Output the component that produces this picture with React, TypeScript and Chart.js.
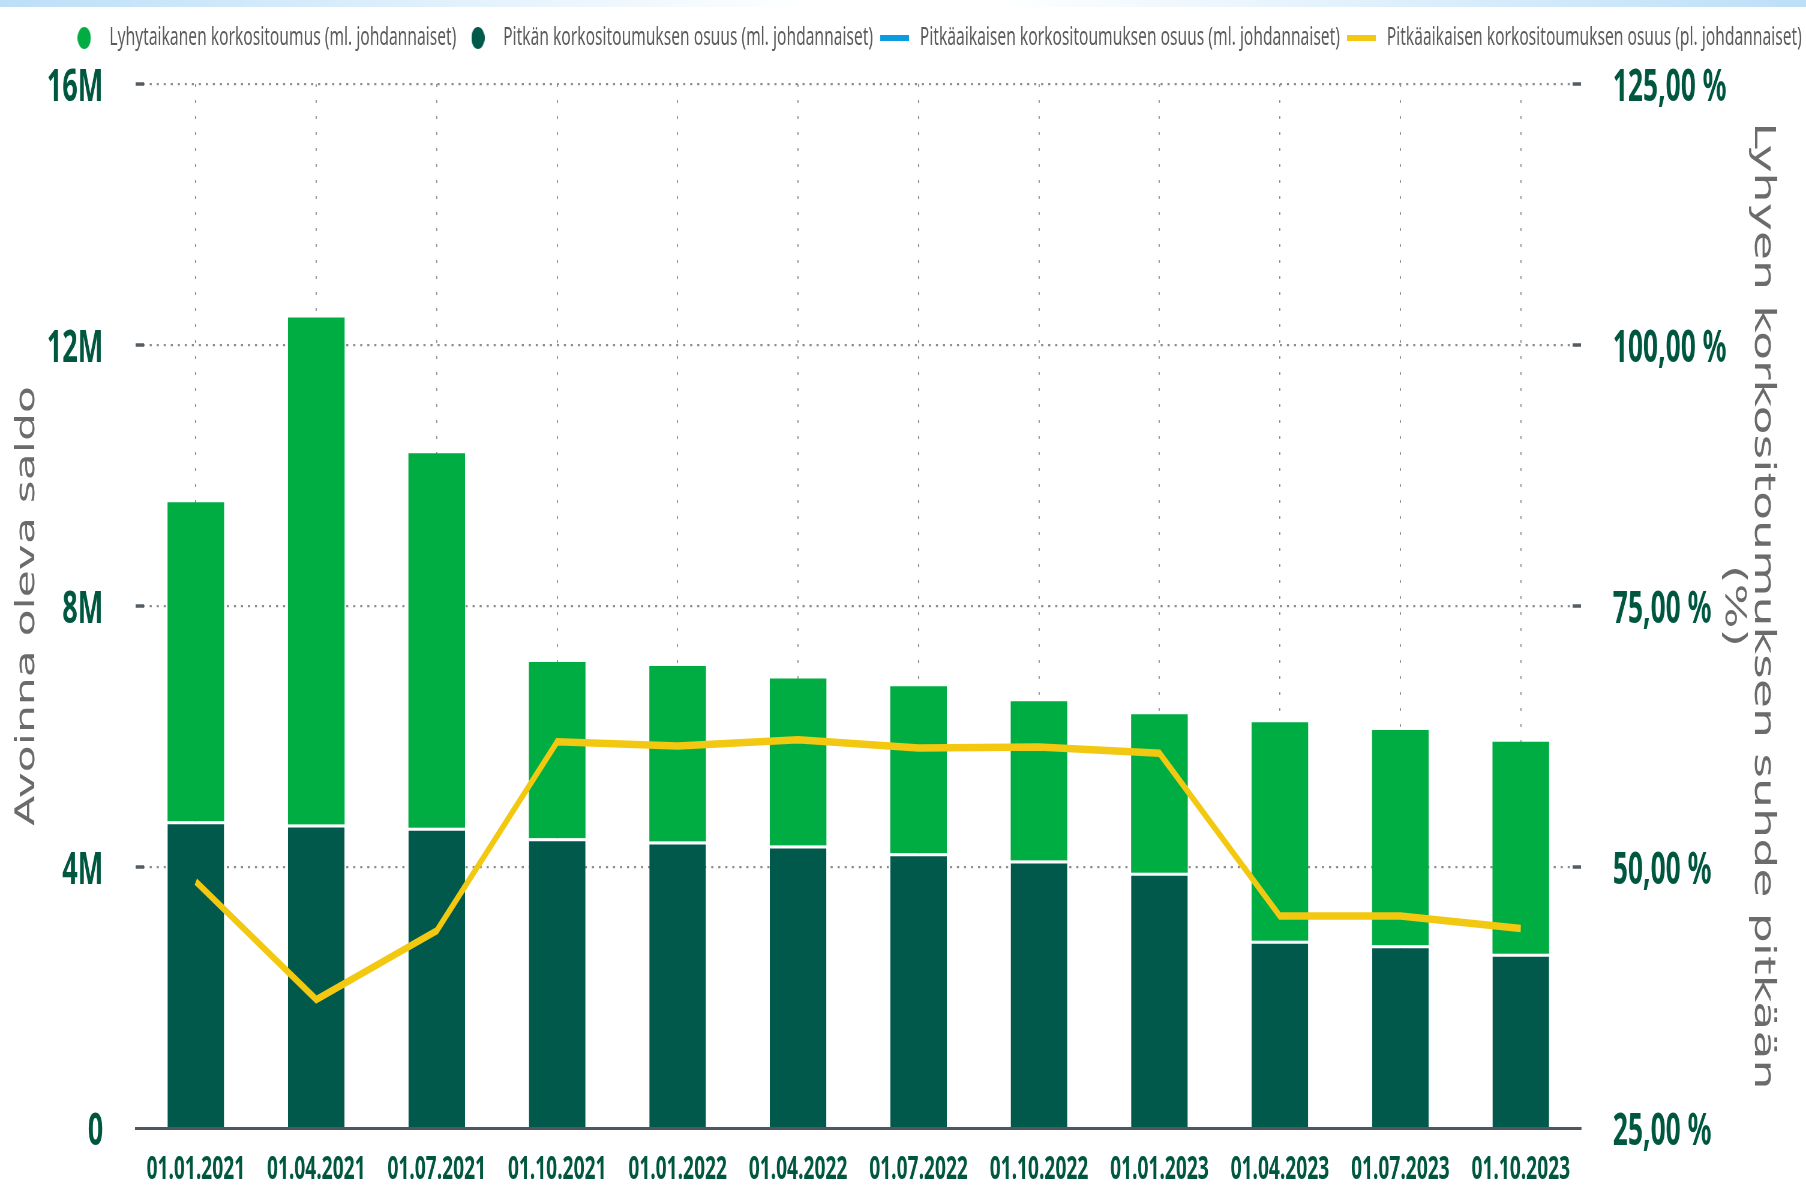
import React, { useEffect, useRef } from 'react';
import { Chart, registerables } from 'chart.js';

Chart.register(...registerables);

// ---------- data ----------
const categories = [
  '01.01.2021', '01.04.2021', '01.07.2021', '01.10.2021',
  '01.01.2022', '01.04.2022', '01.07.2022', '01.10.2022',
  '01.01.2023', '01.04.2023', '01.07.2023', '01.10.2023',
];
const shortTerm = [4890000, 7770000, 5740000, 2700000, 2690000, 2560000, 2560000, 2440000, 2430000, 3350000, 3300000, 3250000];
const longTerm = [4700000, 4650000, 4600000, 4440000, 4390000, 4330000, 4210000, 4100000, 3910000, 2870000, 2800000, 2670000];
const longShareIncl: number[] = [];
const longShareExcl = [48.6, 37.3, 43.9, 62.0, 61.6, 62.2, 61.4, 61.5, 60.9, 45.3, 45.3, 44.1];
const leftTickLabels = ['0', '4M', '8M', '12M', '16M'];
const rightTickLabels = ['25,00 %', '50,00 %', '75,00 %', '100,00 %', '125,00 %'];
const seriesNames = [
  'Lyhytaikanen korkositoumus (ml. johdannaiset)',
  'Pitkän korkositoumuksen osuus (ml. johdannaiset)',
  'Pitkäaikaisen korkositoumuksen osuus (ml. johdannaiset)',
  'Pitkäaikaisen korkositoumuksen osuus (pl. johdannaiset)',
];

// ---------- style ----------
const SQUISH = 0.6;
const W = Math.round(1806 / SQUISH);
const H = 1196;
const LIGHT = '#00AD42';
const DARK = '#00594B';
const BLUE = '#0A9BE0';
const YELLOW = '#F2C811';
const TICK_GREEN = '#00573F';
const GRID = '#8c8c8c';
const LEGEND_GAP = 23;

function circleMarker(color: string) {
  const c = document.createElement('canvas');
  c.width = 22; c.height = 22;
  const g = c.getContext('2d')!;
  g.fillStyle = color;
  g.beginPath(); g.arc(11, 11, 11, 0, Math.PI * 2); g.fill();
  return c;
}
function lineMarker(color: string) {
  const c = document.createElement('canvas');
  c.width = 48; c.height = 6;
  const g = c.getContext('2d')!;
  g.fillStyle = color;
  g.fillRect(0, 0, 48, 6);
  return c;
}

const edgeDashes = {
  id: 'edgeDashes',
  beforeDatasetsDraw(chart: any) {
    const { ctx, chartArea, scales } = chart;
    const y = scales.y;
    ctx.save();
    ctx.strokeStyle = '#555d63';
    ctx.lineWidth = 3.5;
    y.ticks.forEach((t: any) => {
      if (t.value === 0) return;
      const py = y.getPixelForValue(t.value);
      ctx.beginPath();
      ctx.moveTo(chartArea.left, py); ctx.lineTo(chartArea.left + 14, py);
      ctx.moveTo(chartArea.right - 14, py); ctx.lineTo(chartArea.right, py);
      ctx.stroke();
    });
    ctx.restore();
  },
};

const legendGap = {
  id: 'legendGap',
  beforeLayout(chart: any) {
    const lg = chart.legend;
    if (lg && !lg.__gapPatched) {
      const fit = lg.fit.bind(lg);
      lg.fit = function () { fit(); this.height += LEGEND_GAP; };
      lg.__gapPatched = true;
    }
  },
};

export default function App() {
  const ref = useRef<HTMLCanvasElement>(null);
  useEffect(() => {
    if (!ref.current) return;
    const markers = [circleMarker(LIGHT), circleMarker(DARK), lineMarker(BLUE), lineMarker(YELLOW)];
    const chart = new Chart(ref.current, {
      type: 'bar',
      data: {
        labels: categories,
        datasets: [
          {
            type: 'bar', label: seriesNames[0], data: shortTerm, backgroundColor: LIGHT,
            yAxisID: 'y', stack: 's', order: 3, barPercentage: 0.47, categoryPercentage: 1,
          },
          {
            type: 'bar', label: seriesNames[1], data: longTerm, backgroundColor: DARK,
            borderColor: '#ffffff', borderWidth: { top: 3, left: 0, right: 0, bottom: 0 },
            yAxisID: 'y', stack: 's', order: 2, barPercentage: 0.47, categoryPercentage: 1,
          },
          {
            type: 'line', label: seriesNames[2], data: longShareIncl, borderColor: BLUE, backgroundColor: BLUE,
            borderWidth: 7.5, pointRadius: 0, tension: 0, yAxisID: 'y1', order: 1,
          },
          {
            type: 'line', label: seriesNames[3], data: longShareExcl, borderColor: YELLOW, backgroundColor: YELLOW,
            borderWidth: 7.5, pointRadius: 0, tension: 0, yAxisID: 'y1', order: 0,
          },
        ] as any,
      },
      plugins: [edgeDashes, legendGap],
      options: {
        responsive: false,
        animation: false,
        devicePixelRatio: 1,
        layout: { padding: { top: 18, left: 0, right: 0, bottom: 7 } },
        plugins: {
          tooltip: { enabled: false },
          legend: {
            position: 'top',
            align: 'end',
            labels: {
              usePointStyle: true,
              pointStyleWidth: 58,
              boxHeight: 26,
              padding: 7,
              color: '#5b5b5b',
              font: { family: 'Noto Sans', size: 26 },
              sort: (a: any, b: any) => a.datasetIndex - b.datasetIndex,
              generateLabels: (ch: any) => {
                const items = (Chart.defaults.plugins.legend.labels as any).generateLabels(ch);
                items.forEach((it: any) => { it.pointStyle = markers[it.datasetIndex]; });
                return items;
              },
            },
          },
        },
        scales: {
          x: {
            stacked: true,
            afterFit: (s: any) => { s.height = 61; },
            grid: { offset: false, color: GRID, lineWidth: 1.8, drawTicks: false },
            border: { display: true, color: '#4f575c', width: 3, dash: [3, 13] },
            ticks: { color: TICK_GREEN, font: { family: 'Noto Sans', size: 32, weight: 'bold' }, padding: 23, maxRotation: 0, autoSkip: false },
          },
          y: {
            position: 'left', stacked: true, min: 0, max: 16000000,
            afterFit: (s: any) => { s.width = 226; s.paddingTop = 0; s.paddingBottom = 0; },
            grid: { color: GRID, lineWidth: 2.2, drawTicks: false },
            border: { display: false, dash: [3.5, 8.2] },
            ticks: {
              stepSize: 4000000, padding: 54, color: TICK_GREEN, labelOffset: 4,
              font: { family: 'Noto Sans', size: 45, weight: 'bold' },
              callback: (_v: any, i: number) => leftTickLabels[i],
            },
            title: {
              display: true, text: 'Avoinna oleva saldo', color: '#6b6b6b',
              font: { family: 'DejaVu Sans', size: 44, lineHeight: 1.1 }, padding: { top: 21, bottom: 0 },
            },
          },
          y1: {
            position: 'right', min: 25, max: 125,
            afterFit: (s: any) => { s.width = W - 2635; s.paddingTop = 0; s.paddingBottom = 0; },
            grid: { drawOnChartArea: false, drawTicks: false },
            border: { display: false },
            ticks: {
              stepSize: 25, padding: 53, color: TICK_GREEN, labelOffset: 4,
              font: { family: 'Noto Sans', size: 44, weight: 'bold' },
              callback: (_v: any, i: number) => rightTickLabels[i],
            },
            title: {
              display: true, text: ['Lyhyen korkositoumuksen suhde pitkään', '(%)'], color: '#6b6b6b',
              font: { family: 'DejaVu Sans', size: 47.5, lineHeight: 1.03 }, padding: { top: 48.5, bottom: 0 },
            },
          },
        },
      } as any,
    });
    return () => chart.destroy();
  }, []);

  return (
    <div style={{ position: 'fixed', left: 0, top: 0, width: 1806, height: H, overflow: 'hidden', background: '#fff' }}>
      <div style={{ position: 'absolute', left: 0, top: 0, width: 1806, height: 7, background: 'linear-gradient(to right, #bcdff7, #ffffff 45%, #ffffff 55%, #bcdff7)' }} />
      <div style={{ position: 'absolute', left: 0, top: 0, width: W, height: H, transform: `scaleX(${SQUISH})`, transformOrigin: '0 0' }}>
        <canvas ref={ref} width={W} height={H} style={{ display: 'block' }} />
      </div>
    </div>
  );
}
